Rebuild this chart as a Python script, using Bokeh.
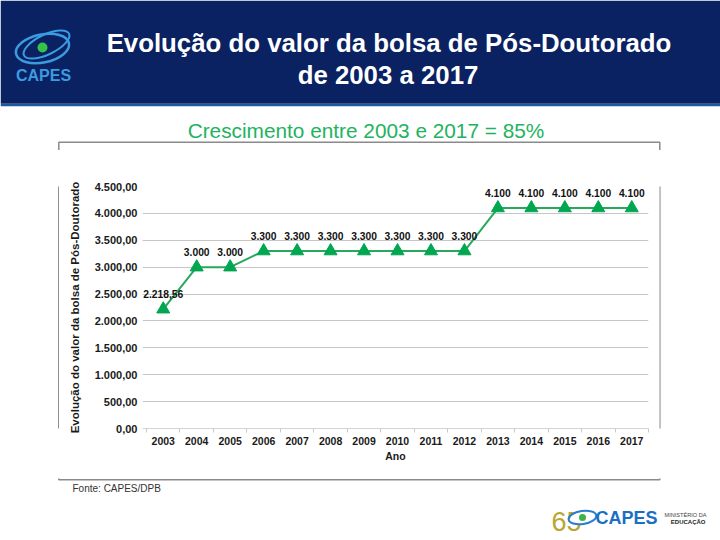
from bokeh.plotting import figure
from bokeh.layouts import column, row
from bokeh.models import Range1d, FixedTicker
from bokeh.core.properties import value
from bokeh.embed import file_html
from bokeh.resources import INLINE

# ---------------- data ----------------
years = [2003, 2004, 2005, 2006, 2007, 2008, 2009, 2010,
         2011, 2012, 2013, 2014, 2015, 2016, 2017]
values = [2218.56, 3000, 3000, 3300, 3300, 3300, 3300, 3300,
          3300, 3300, 4100, 4100, 4100, 4100, 4100]
value_labels = ["2.218,56", "3.000", "3.000", "3.300", "3.300", "3.300", "3.300", "3.300",
                "3.300", "3.300", "4.100", "4.100", "4.100", "4.100", "4.100"]
y_ticks = [0, 500, 1000, 1500, 2000, 2500, 3000, 3500, 4000, 4500]
y_tick_labels = ["0,00", "500,00", "1.000,00", "1.500,00", "2.000,00", "2.500,00",
                 "3.000,00", "3.500,00", "4.000,00", "4.500,00"]
title_lines = ["Evolução do valor da bolsa de Pós-Doutorado", "de 2003 a 2017"]
subtitle = "Crescimento entre 2003 e 2017 = 85%"
y_label = "Evolução do valor da bolsa de Pós-Doutorado"
x_label = "Ano"
source_note = "Fonte: CAPES/DPB"

FONT = "Liberation Sans"
NAVY = "#0a2162"
GREEN_TXT = "#22b35e"
BOX = (58.3, 659.3, 141.7, 479.3)  # left, right, top, bottom (page px)
PW, PH = 720, 540


# ---------------- helpers for decoration panels (page pixel coords) ----------------
def deco(x0, x1, y0, y1):
    f = figure(width=x1 - x0, height=y1 - y0, x_range=Range1d(x0, x1),
               y_range=Range1d(y1, y0), output_backend="svg", toolbar_location=None,
               min_border=0, x_axis_location=None, y_axis_location=None)
    f.grid.visible = False
    f.title.visible = False
    f.outline_line_color = None
    f.background_fill_color = "white"
    f.border_fill_color = "white"
    # header band (only visible where it falls inside)
    f.quad(left=0, right=PW, top=0, bottom=103.3, fill_color=NAVY, line_color=None)
    f.quad(left=0, right=PW, top=103.3, bottom=105.7, fill_color="#1e5a9a", line_color=None)
    # chart frame box
    f.quad(left=BOX[0], right=BOX[1], top=BOX[2], bottom=BOX[3], fill_alpha=0,
           line_color="#8a8a8a", line_width=1.5)
    return f


def txt(f, x, y, s, size, color, style="normal", align="center", baseline="alphabetic"):
    f.text(x=[x], y=[y], text=[s], text_font=value(FONT), text_font_size=size,
           text_color=color, text_font_style=style, text_align=align,
           text_baseline=baseline)


CY0, CY1 = 150, 478      # chart row top/bottom
CX0, CX1 = 59, 659       # chart figure left/right

# ---------------- top panel ----------------
top = deco(0, PW, 0, CY0)
txt(top, 388.5, 42, title_lines[0], "25.8px", "white", "bold")
txt(top, 387.5, 74, title_lines[1], "25.8px", "white", "bold")
# CAPES logo (top-left)
top.ellipse(x=[42], y=[48], width=54, height=28, angle=0.2, fill_alpha=0,
            line_color="#3b9be0", line_width=2.5)
top.ellipse(x=[46], y=[44], width=50, height=20, angle=0.45, fill_alpha=0,
            line_color="#3b9be0", line_width=2)
top.scatter(x=[42], y=[47], marker="circle", size=10, fill_color="#36c24a", line_color=None)
txt(top, 43, 75, "CAPES", "16px", "#3b9be0", "bold")
# subtitle
txt(top, 365.5, 130, subtitle, "20.8px", GREEN_TXT)

# ---------------- side strips ----------------
left = deco(0, CX0, CY0, CY1)
right = deco(CX1, PW, CY0, CY1)

# ---------------- chart ----------------
FL, FR, FT, FB = 142, 648, 186, 428  # plot area in page px
x_start = years[0] - 0.5 - 0.12
p = figure(width=CX1 - CX0, height=CY1 - CY0,
           x_range=Range1d(x_start, years[-1] + 0.5), y_range=Range1d(0, 4500),
           output_backend="svg", toolbar_location=None,
           min_border_left=FL - CX0, min_border_right=CX1 - FR,
           min_border_top=FT - CY0, min_border_bottom=CY1 - FB)
p.title.visible = False
p.background_fill_color = "white"
p.border_fill_color = "white"
p.outline_line_color = None

p.xgrid.visible = False
p.ygrid.ticker = FixedTicker(ticks=y_ticks)
p.ygrid.grid_line_color = "#c6c6c6"
p.ygrid.grid_line_width = 1

ya = p.yaxis[0]
ya.ticker = FixedTicker(ticks=y_ticks)
ya.major_label_overrides = {t: l for t, l in zip(y_ticks, y_tick_labels)}
ya.axis_line_color = None
ya.major_tick_line_color = None
ya.minor_tick_line_color = None
ya.major_tick_out = 0
ya.major_tick_in = 0
ya.minor_tick_out = 0
ya.major_label_standoff = 5
ya.major_label_text_font = FONT
ya.major_label_text_font_style = "bold"
ya.major_label_text_font_size = "11px"
ya.major_label_text_color = "#1a1a1a"
ya.axis_label = y_label
ya.axis_label_text_font = FONT
ya.axis_label_text_font_style = "bold"
ya.axis_label_text_font_size = "11.5px"
ya.axis_label_text_color = "#1a1a1a"
ya.axis_label_standoff = 11

boundaries = [y - 0.5 for y in years] + [years[-1] + 0.5]
xa = p.xaxis[0]
xa.ticker = FixedTicker(ticks=years, minor_ticks=boundaries)
xa.axis_line_color = "#d4d4d4"
xa.major_tick_line_color = None
xa.major_tick_out = 0
xa.major_tick_in = 0
xa.minor_tick_line_color = "#c8c8c8"
xa.minor_tick_out = 4
xa.minor_tick_in = 0
xa.major_label_standoff = 4
xa.major_label_text_font = FONT
xa.major_label_text_font_style = "bold"
xa.major_label_text_font_size = "10.5px"
xa.major_label_text_color = "#1a1a1a"
xa.axis_label = x_label
xa.axis_label_text_font = FONT
xa.axis_label_text_font_style = "bold"
xa.axis_label_text_font_size = "10.5px"
xa.axis_label_text_color = "#1a1a1a"
xa.axis_label_standoff = 2

p.line(x=years, y=values, line_color="#27a85b", line_width=2)
p.scatter(x=years, y=values, marker="triangle", size=13,
          fill_color="#00a650", line_color="#00a650")
p.text(x=years, y=values, text=value_labels, text_font=value(FONT),
       text_font_style="bold", text_font_size="10.3px", text_align="center",
       text_baseline="middle", y_offset=-15, text_color="#111111")

# ---------------- bottom panel ----------------
bottom = deco(0, PW, CY1, PH)
txt(bottom, 72, 488, source_note, "10px", "#333333", align="left")
txt(bottom, 551, 521, "65", "27px", "#b9a532", align="left")
bottom.ellipse(x=[582], y=[517], width=28, height=13, angle=0.15, fill_color="white",
               line_color="#2a7dcc", line_width=2)
bottom.scatter(x=[582], y=[517], marker="circle", size=7, fill_color="#3cb44a", line_color=None)
txt(bottom, 595, 517.5, "CAPES", "18px", "#1a6fc4", "bold", align="left")
txt(bottom, 664, 514, "MINISTÉRIO DA", "5.6px", "#444444", align="left", baseline="middle")
txt(bottom, 705, 521, "EDUCAÇÃO", "6px", "#222222", "bold", align="right", baseline="middle")

layout = column(top, row(left, p, right), bottom)
open("out.html", "w").write(file_html(layout, INLINE))
